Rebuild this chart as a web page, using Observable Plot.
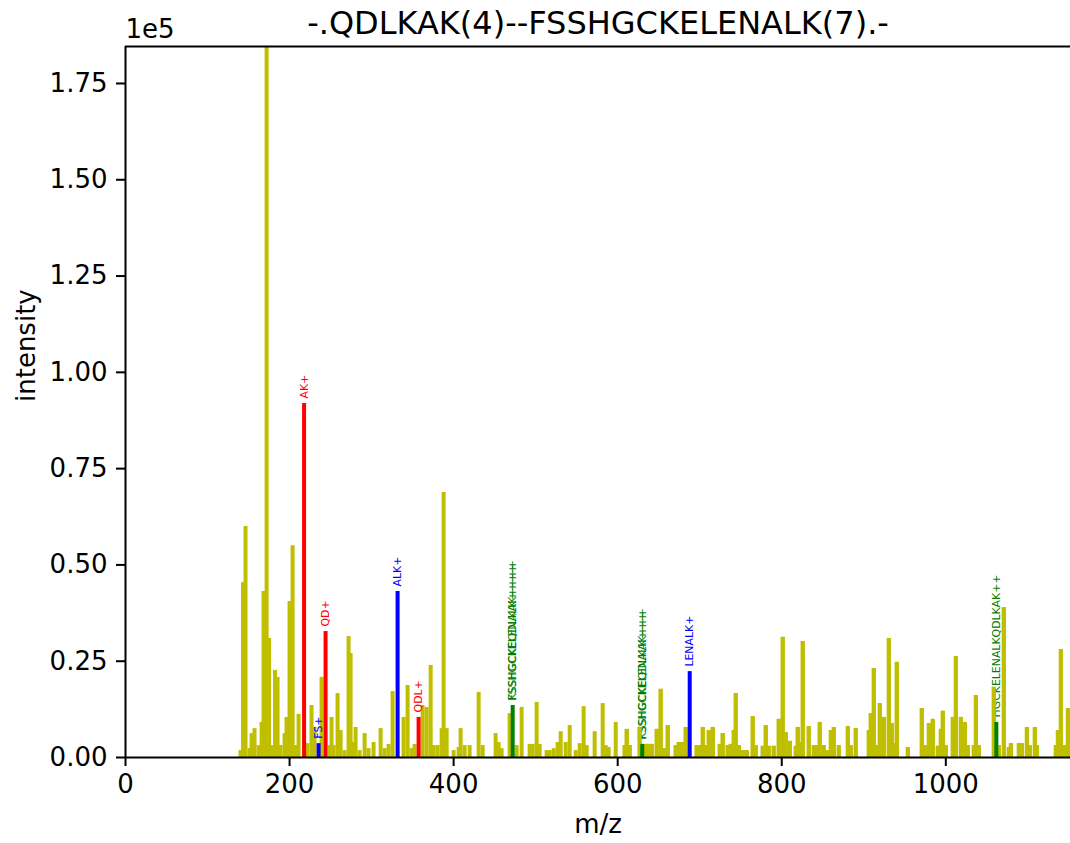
<!DOCTYPE html>
<html><head><meta charset="utf-8">
<script src="https://cdn.jsdelivr.net/npm/d3@7"></script>
<script src="https://cdn.jsdelivr.net/npm/@observablehq/plot@0.6"></script>
<style>body{margin:0;background:#fff;}</style>
</head><body><div id="chart"></div>
<script>
const title = "-.QDLKAK(4)--FSSHGCKELENALK(7).-";
const peakMz = [140.2,143.3,146.3,151.2,153.7,157.3,162.2,165.9,168.3,172.0,175.0,179.3,182.3,185.4,189.0,193.9,196.3,200.0,203.7,207.3,211.0,222.0,226.8,230.5,239.0,249.0,251.2,253.7,258.5,262.2,267.1,271.9,274.4,278.0,280.5,285.4,291.5,296.3,302.4,311.0,315.9,320.7,325.6,339.0,343.9,348.8,352.4,362.2,367.1,372.0,375.6,380.5,385.4,387.8,391.5,400.0,406.1,408.5,413.4,419.5,430.5,435.4,451.2,454.9,458.5,468.3,476.8,482.9,492.7,496.3,501.2,504.9,513.4,517.1,522.0,526.8,530.5,536.6,541.5,548.8,553.7,558.5,562.2,571.9,581.7,585.4,589.0,597.6,608.5,611.0,614.6,626.8,634.1,637.8,641.5,647.6,652.4,656.1,661.0,670.7,674.4,678.0,682.9,696.3,700.0,703.7,706.1,711.0,715.9,724.4,728.0,734.1,737.8,741.5,743.9,747.6,752.4,757.3,764.6,768.3,776.8,780.5,784.1,790.2,796.3,801.2,804.9,809.8,817.1,819.5,822.0,825.6,832.9,839.0,842.7,846.3,851.2,854.9,859.8,863.4,869.5,880.5,884.1,890.2,906.1,908.5,912.2,915.9,919.5,924.4,930.5,934.1,937.8,940.2,953.7,970.7,974.4,979.3,984.1,990.2,993.9,996.3,1000.0,1008.5,1012.2,1018.3,1023.2,1026.8,1034.1,1036.6,1040.2,1058.5,1064.6,1070.7,1076.8,1079.3,1089.0,1092.7,1098.8,1102.4,1108.5,1111.0,1134.1,1136.6,1140.2,1143.9,1148.8];
const peakIntensity = [1800,45400,60000,2300,6200,7500,3100,9100,43100,184600,30900,3100,22600,20800,3100,6200,10400,40500,55000,3100,11200,3600,13500,7800,20800,3100,10400,3100,16600,7000,1800,31400,27000,3900,7800,1800,6200,2300,3900,7500,2300,3400,17100,10400,18700,2300,3400,13500,13000,23900,3100,3100,7500,68800,7500,1800,2600,7500,3100,3100,16900,3100,6200,3900,2300,11400,3100,13000,3400,3400,14300,3400,1800,1800,2300,3900,6700,3900,8300,1800,3600,13200,3100,6700,14000,3100,2600,9100,3100,7300,3100,7800,3400,3400,3400,7300,17700,2300,8300,3100,3900,3900,7800,3100,3100,7800,3100,7000,7800,3400,6200,3100,3400,7000,16600,3100,1800,1800,10600,3100,2900,8300,2900,2900,9900,31200,6500,4200,2900,7800,3900,30100,8000,3100,3100,9100,3100,1800,7000,7800,3100,8000,3100,7500,7000,11400,23100,3100,14000,10400,30900,8800,3600,24700,2600,12700,3100,8800,9900,2900,7300,12000,3100,10400,26200,10400,9100,3100,3100,16100,3100,18200,3100,38900,2600,3600,3600,3600,7800,3100,7800,3100,3100,7000,28000,3100,12700];

const ionMz = [217.7, 243.9, 357.3, 235.4, 331.7, 687.8, 472.0, 629.9, 1061.6];
const ionIntensity = [91900, 32700, 10400, 3600, 43100, 22300, 13500, 3400, 9100];
const ionColor = ["#ff0000","#ff0000","#ff0000","#0000ff","#0000ff","#0000ff","#008000","#008000","#008000"];
const ionLabel = ["AK+","QD+","QDL+","FS+","ALK+","LENALK+","KSSHGCKEQDLKAK++++","KSSHGCKEQDLKAK+++","HGCKELENALKQDLKAK++"];
// second, overlapping labels drawn at the same ions
const extraLabelIon = [6, 7];
const extraLabelText = ["FSSHGCKELENALK++++","FSSHGCKELENALK+++"];

const xTicks = [0, 200, 400, 600, 800, 1000];
const yTicks = [0, 25000, 50000, 75000, 100000, 125000, 150000, 175000];
const yTickLabels = ["0.00","0.25","0.50","0.75","1.00","1.25","1.50","1.75"];
const xMax = 1152, yMax = 184600;

const peaks = peakMz.map((m, i) => ({mz: m, intensity: peakIntensity[i]}));
const ions = ionMz.map((m, i) => ({mz: m, intensity: ionIntensity[i], color: ionColor[i], label: ionLabel[i]}));
const labels = ions.concat(extraLabelIon.map((k, j) => ({...ions[k], label: extraLabelText[j]})));

const font = "DejaVu Sans, sans-serif";
const yellow = "#bfbf00";
const chart = Plot.plot({
  width: 1070, height: 843,
  marginLeft: 125, marginRight: 0, marginTop: 46, marginBottom: 86,
  style: {fontFamily: font, background: "#fff", color: "#000"},
  x: {domain: [0, xMax]},
  y: {domain: [0, yMax]},
  marks: [
    Plot.ruleX(peaks, {x: "mz", y1: 0, y2: "intensity", stroke: yellow, strokeWidth: 4}),
    Plot.text(labels, {x: "mz", y: "intensity", text: "label", fill: "color", rotate: -90, textAnchor: "start", lineAnchor: "middle", dy: -5, fontSize: 10.9}),
    // later peaks overdraw the bottom of the annotations, as in the source figure
    Plot.ruleX(peaks, {filter: d => d.mz > 600, x: "mz", y1: 0, y2: "intensity", stroke: yellow, strokeWidth: 4}),
    Plot.ruleX(ions, {x: "mz", y1: 0, y2: "intensity", stroke: "color", strokeWidth: 4}),
    Plot.ruleX([0], {stroke: "#000", strokeWidth: 2}),
    Plot.ruleY([0, yMax], {stroke: "#000", strokeWidth: 2}),
    Plot.axisX({ticks: xTicks, tickFormat: d => String(d), tickSize: 9, tickPadding: 8, fontSize: 26, label: null, strokeWidth: 2}),
    Plot.axisY({ticks: yTicks, tickFormat: d => yTickLabels[yTicks.indexOf(d)], tickSize: 9, tickPadding: 9, fontSize: 26, label: null, strokeWidth: 2}),
    Plot.text([title], {frameAnchor: "top", lineAnchor: "middle", dy: -23, fontSize: 32}),
    Plot.text(["1e5"], {frameAnchor: "top-left", textAnchor: "start", lineAnchor: "middle", dy: -17, fontSize: 26}),
    Plot.text(["intensity"], {frameAnchor: "left", rotate: -90, lineAnchor: "middle", dx: -99, fontSize: 26}),
    Plot.text(["m/z"], {frameAnchor: "bottom", lineAnchor: "middle", dy: 67, fontSize: 26})
  ]
});
document.getElementById("chart").appendChild(chart);
</script>
</body></html>
